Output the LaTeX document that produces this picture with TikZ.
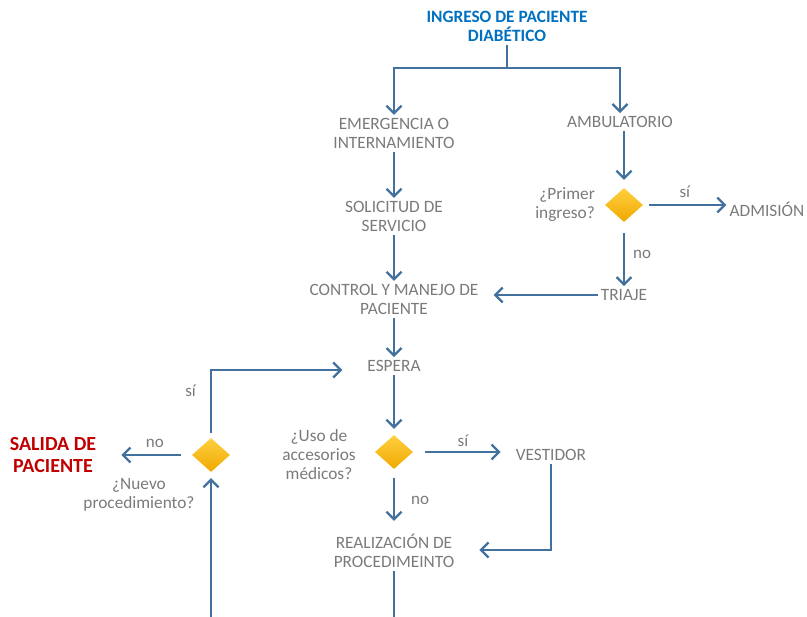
\documentclass[tikz,border=0pt]{standalone}
\usepackage{fontspec}
\setmainfont{Carlito}
\usetikzlibrary{arrows.meta,shapes.geometric}
\definecolor{flowblue}{HTML}{41719C}
\definecolor{titleblue}{HTML}{0070C0}
\definecolor{exitred}{HTML}{C00000}
\definecolor{txtgray}{HTML}{7A7A7A}
\definecolor{goldtop}{HTML}{FFD040}
\definecolor{goldbot}{HTML}{F0A800}
\begin{document}
\begin{tikzpicture}[x=1pt,y=-1pt,
  stage/.style={text=txtgray,font=\fontsize{17.3}{19.5}\selectfont,align=center,inner sep=3pt},
  heading/.style={text=titleblue,font=\bfseries\fontsize{17.3}{19.5}\selectfont,align=center,inner sep=3pt},
  exitnode/.style={text=exitred,font=\bfseries\fontsize{20}{22}\selectfont,align=center,inner sep=3pt},
  question/.style={text=txtgray,font=\fontsize{17.3}{19}\selectfont,inner sep=2pt},
  decision/.style={diamond,minimum width=38pt,minimum height=34pt,inner sep=0pt,
    top color=goldtop,bottom color=goldbot,draw=none},
  lab/.style={text=txtgray,font=\fontsize{17}{17}\selectfont,inner sep=2pt},
  link/.style={draw=flowblue,line width=2.3pt},
  arr/.style={link,-{Straight Barb[length=7.5pt,width=15pt]}},
]
\useasboundingbox (0,0) rectangle (807,617);

% stages
\node[heading] (title) at (507,26.5) {INGRESO DE PACIENTE\\DIABÉTICO};
\node[stage] (emerg) at (394,133.5) {EMERGENCIA O\\INTERNAMIENTO};
\node[stage] (amb) at (620,122) {AMBULATORIO};
\node[stage] (solic) at (394,216.5) {SOLICITUD DE\\SERVICIO};
\node[stage] (ctrl) at (394,299.5) {CONTROL Y MANEJO DE\\PACIENTE};
\node[stage] (adm) at (767,209) {ADMISIÓN};
\node[stage] (triaje) at (624,295) {TRIAJE};
\node[stage] (espera) at (394,366) {ESPERA};
\node[stage] (vest) at (551,455) {VESTIDOR};
\node[stage] (realiz) at (394,551) {REALIZACIÓN DE\\PROCEDIMEINTO};
\node[exitnode] (salida) at (53,455) {SALIDA DE\\PACIENTE};

% decisions
\node[decision] (d1) at (624,205) {};
\node[decision] (d2) at (394,452) {};
\node[decision] (d3) at (211,455) {};
\node[question,align=right,anchor=east] (q1) at (597,205) {¿Primer\\ingreso?};
\node[question,align=center] (q2) at (319,455) {¿Uso de\\accesorios\\médicos?};
\node[question,align=center] (q3) at (139,495) {¿Nuevo\\procedimiento?};

% fixed points
\coordinate (split) at (507,68);
\coordinate (bottomR) at (394,617);
\coordinate (bottomL) at (211,617);

% connectors
\draw[link] (title.south) -- (split);
\draw[arr] (split) -| (emerg.north);
\draw[arr] (split) -| (amb.north);
\draw[arr] (emerg) -- (solic);
\draw[arr] (solic) -- (ctrl);
\draw[arr] (ctrl) -- (espera);
\draw[arr,shorten >=8pt] (amb.south -| d1) -- (d1);
\draw[arr,shorten <=6pt] (d1) -- node[lab,above=4pt]{sí} (adm.west |- d1);
\draw[arr,shorten <=11pt] (d1) -- node[lab,right=6pt]{no} (triaje);
\draw[arr,shorten >=12pt] (triaje.west) -- (triaje.west -| ctrl.east);
\draw[arr,shorten >=6pt] (espera) -- (d2);
\draw[arr,shorten <=12pt,shorten >=12pt] (d2) -- node[lab,above=2pt]{sí} (vest.west |- d2);
\draw[arr,shorten <=9pt,shorten >=10pt] (d2) -- node[lab,right=14pt]{no} (realiz);
\draw[arr,shorten >=22pt] (vest.south) |- ([yshift=1pt]realiz.east);
\draw[link] (realiz) -- (bottomR);
\draw[arr,shorten >=6pt] (bottomL) -- (d3);
\draw[arr,shorten <=5pt,shorten >=22pt] (d3.north) |- node[lab,pos=0.35,left=12pt]{sí} ([yshift=-4pt]espera.west);
\draw[arr,shorten <=11pt,shorten >=22pt] (d3) -- node[lab,above=4pt,pos=0.4]{no} (salida);
\end{tikzpicture}
\end{document}
